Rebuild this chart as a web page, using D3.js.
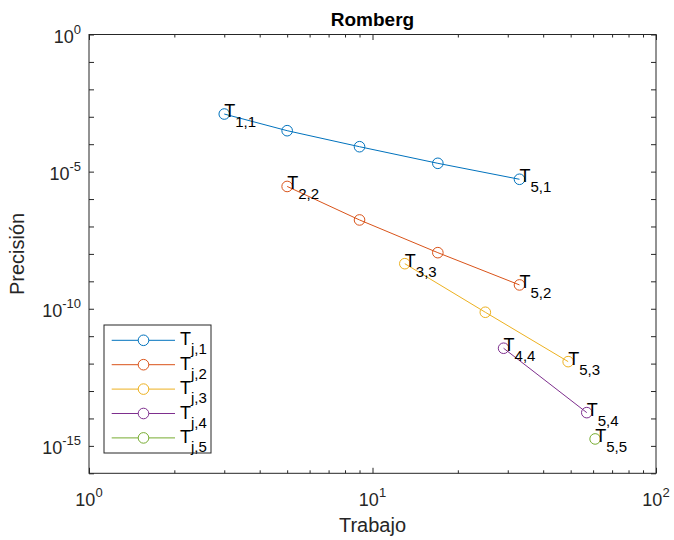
<!DOCTYPE html>
<html>
<head>
<meta charset="utf-8">
<script src="https://cdn.jsdelivr.net/npm/d3@7"></script>
<style>
  html, body { margin: 0; padding: 0; background: #fff; }
  svg { display: block; }
  text { font-family: "Liberation Sans", Arial, Helvetica, sans-serif; fill: #262626; }
</style>
</head>
<body>
<svg id="chart" width="674" height="540"></svg>
<script>
// Work (function evaluations) and error for each Romberg column T_{j,k}
const work1 = [3, 5, 9, 17, 33];
const err1  = [1.26e-3, 3.11e-4, 8.1e-5, 2.01e-5, 5.26e-6];
const work2 = [5, 9, 17, 33];
const err2  = [2.88e-6, 1.73e-7, 1.11e-8, 7.4e-10];
const work3 = [13, 25, 49];
const err3  = [4.4e-9, 7.45e-11, 1.18e-12];
const work4 = [29, 57];
const err4  = [3.63e-12, 1.63e-14];
const work5 = [61];
const err5  = [1.79e-15];

const colors = ["#0072BD", "#D95319", "#EDB120", "#7E2F8E", "#77AC30"];
const legendSubs = ["j,1", "j,2", "j,3", "j,4", "j,5"];
const xTickExps = [0, 1, 2];
const yTickExps = [0, -5, -10, -15];

const works = [work1, work2, work3, work4, work5];
const errs = [err1, err2, err3, err4, err5];
const series = works.map((w, k) => w.map((x, i) => ({ x, y: errs[k][i] })));

const svg = d3.select("#chart");
const L = 89, R = 656, T = 34.5, B = 473.3;
const x = d3.scaleLog().domain([1, 100]).range([L, R]);
const y = d3.scaleLog().domain([1e-16, 1]).range([B, T]);
const axisColor = "#262626";

// plot background
svg.append("rect").attr("x", L).attr("y", T).attr("width", R - L).attr("height", B - T).attr("fill", "#fff");

// tick marks (inward) on all four sides
const xMajor = [1, 10, 100];
const xMinor = [];
for (let d = 1; d < 100; d *= 10) for (let m = 2; m <= 9; m++) xMinor.push(d * m);
const yTicks = d3.range(-16, 1).map(e => Math.pow(10, e));

function addAxis(axis, tx, ty) {
  const g = svg.append("g").attr("transform", `translate(${tx},${ty})`).call(axis);
  g.select(".domain").remove();
  g.selectAll("line").attr("stroke", axisColor).attr("stroke-width", 1);
  g.selectAll("text").remove();
  return g;
}
addAxis(d3.axisBottom(x).tickValues(xMajor).tickSize(-5.5).tickFormat(""), 0, B);
addAxis(d3.axisBottom(x).tickValues(xMinor).tickSize(-3).tickFormat(""), 0, B);
addAxis(d3.axisTop(x).tickValues(xMajor).tickSize(-5.5).tickFormat(""), 0, T);
addAxis(d3.axisTop(x).tickValues(xMinor).tickSize(-3).tickFormat(""), 0, T);
addAxis(d3.axisLeft(y).tickValues(yTicks).tickSize(-5).tickFormat(""), L, 0);
addAxis(d3.axisRight(y).tickValues(yTicks).tickSize(-5).tickFormat(""), R, 0);

// frame
svg.append("rect").attr("x", L).attr("y", T).attr("width", R - L).attr("height", B - T)
  .attr("fill", "none").attr("stroke", axisColor).attr("stroke-width", 1);

// tick labels with powers of ten
xTickExps.forEach(e => {
  const t = svg.append("text").attr("x", x(Math.pow(10, e))).attr("y", 506)
    .attr("text-anchor", "middle").attr("font-size", 18);
  t.append("tspan").text("10");
  t.append("tspan").attr("dy", -9).attr("font-size", 13).text(e);
});
yTickExps.forEach(e => {
  const t = svg.append("text").attr("x", L - 8).attr("y", y(Math.pow(10, e)) + 8)
    .attr("text-anchor", "end").attr("font-size", 18);
  t.append("tspan").text("10");
  t.append("tspan").attr("dy", -9).attr("font-size", 13).text(e);
});

// axis titles
svg.append("text").attr("x", (L + R) / 2).attr("y", 26).attr("text-anchor", "middle")
  .attr("font-size", 19).attr("font-weight", "bold").style("fill", "#000").text("Romberg");
svg.append("text").attr("x", (L + R) / 2).attr("y", 532).attr("text-anchor", "middle")
  .attr("font-size", 20).text("Trabajo");
svg.append("text").attr("transform", `translate(24,${(T + B) / 2}) rotate(-90)`)
  .attr("text-anchor", "middle").attr("font-size", 20).text("Precisión");

// series lines and markers
const line = d3.line().x(d => x(d.x)).y(d => y(d.y));
series.forEach((s, k) => {
  const g = svg.append("g");
  g.append("path").datum(s).attr("d", line).attr("fill", "none")
    .attr("stroke", colors[k]).attr("stroke-width", 1);
  g.selectAll("circle").data(s).join("circle")
    .attr("cx", d => x(d.x)).attr("cy", d => y(d.y)).attr("r", 5.3)
    .attr("fill", "none").attr("stroke", colors[k]).attr("stroke-width", 1);
});

// point labels T_{i,j} at the first and last entries of each column
function subLabel(px, py, sub) {
  const t = svg.append("text").attr("x", px).attr("y", py + 3).attr("font-size", 18).style("fill", "#000");
  t.append("tspan").text("T");
  t.append("tspan").attr("dy", 10).attr("font-size", 15).text(sub);
}
series.forEach((s, k) => {
  const j = k + 1;
  const first = s[0], last = s[s.length - 1];
  if (s.length > 1) subLabel(x(first.x), y(first.y), `${j},${j}`);
  subLabel(x(last.x), y(last.y), `5,${j}`);
});

// legend
const lg = svg.append("g");
lg.append("rect").attr("x", 104).attr("y", 325).attr("width", 107).attr("height", 128)
  .attr("fill", "#fff").attr("stroke", axisColor).attr("stroke-width", 1);
colors.forEach((c, k) => {
  const ry = 340.3 + k * 24.4;
  lg.append("line").attr("x1", 111.7).attr("x2", 175).attr("y1", ry).attr("y2", ry)
    .attr("stroke", c).attr("stroke-width", 1);
  lg.append("circle").attr("cx", 143.5).attr("cy", ry).attr("r", 5.3)
    .attr("fill", "#fff").attr("stroke", c).attr("stroke-width", 1);
  const t = lg.append("text").attr("x", 180).attr("y", ry + 5).attr("font-size", 18).style("fill", "#000");
  t.append("tspan").text("T");
  t.append("tspan").attr("dy", 9).attr("font-size", 15).text(legendSubs[k]);
});
</script>
</body>
</html>
